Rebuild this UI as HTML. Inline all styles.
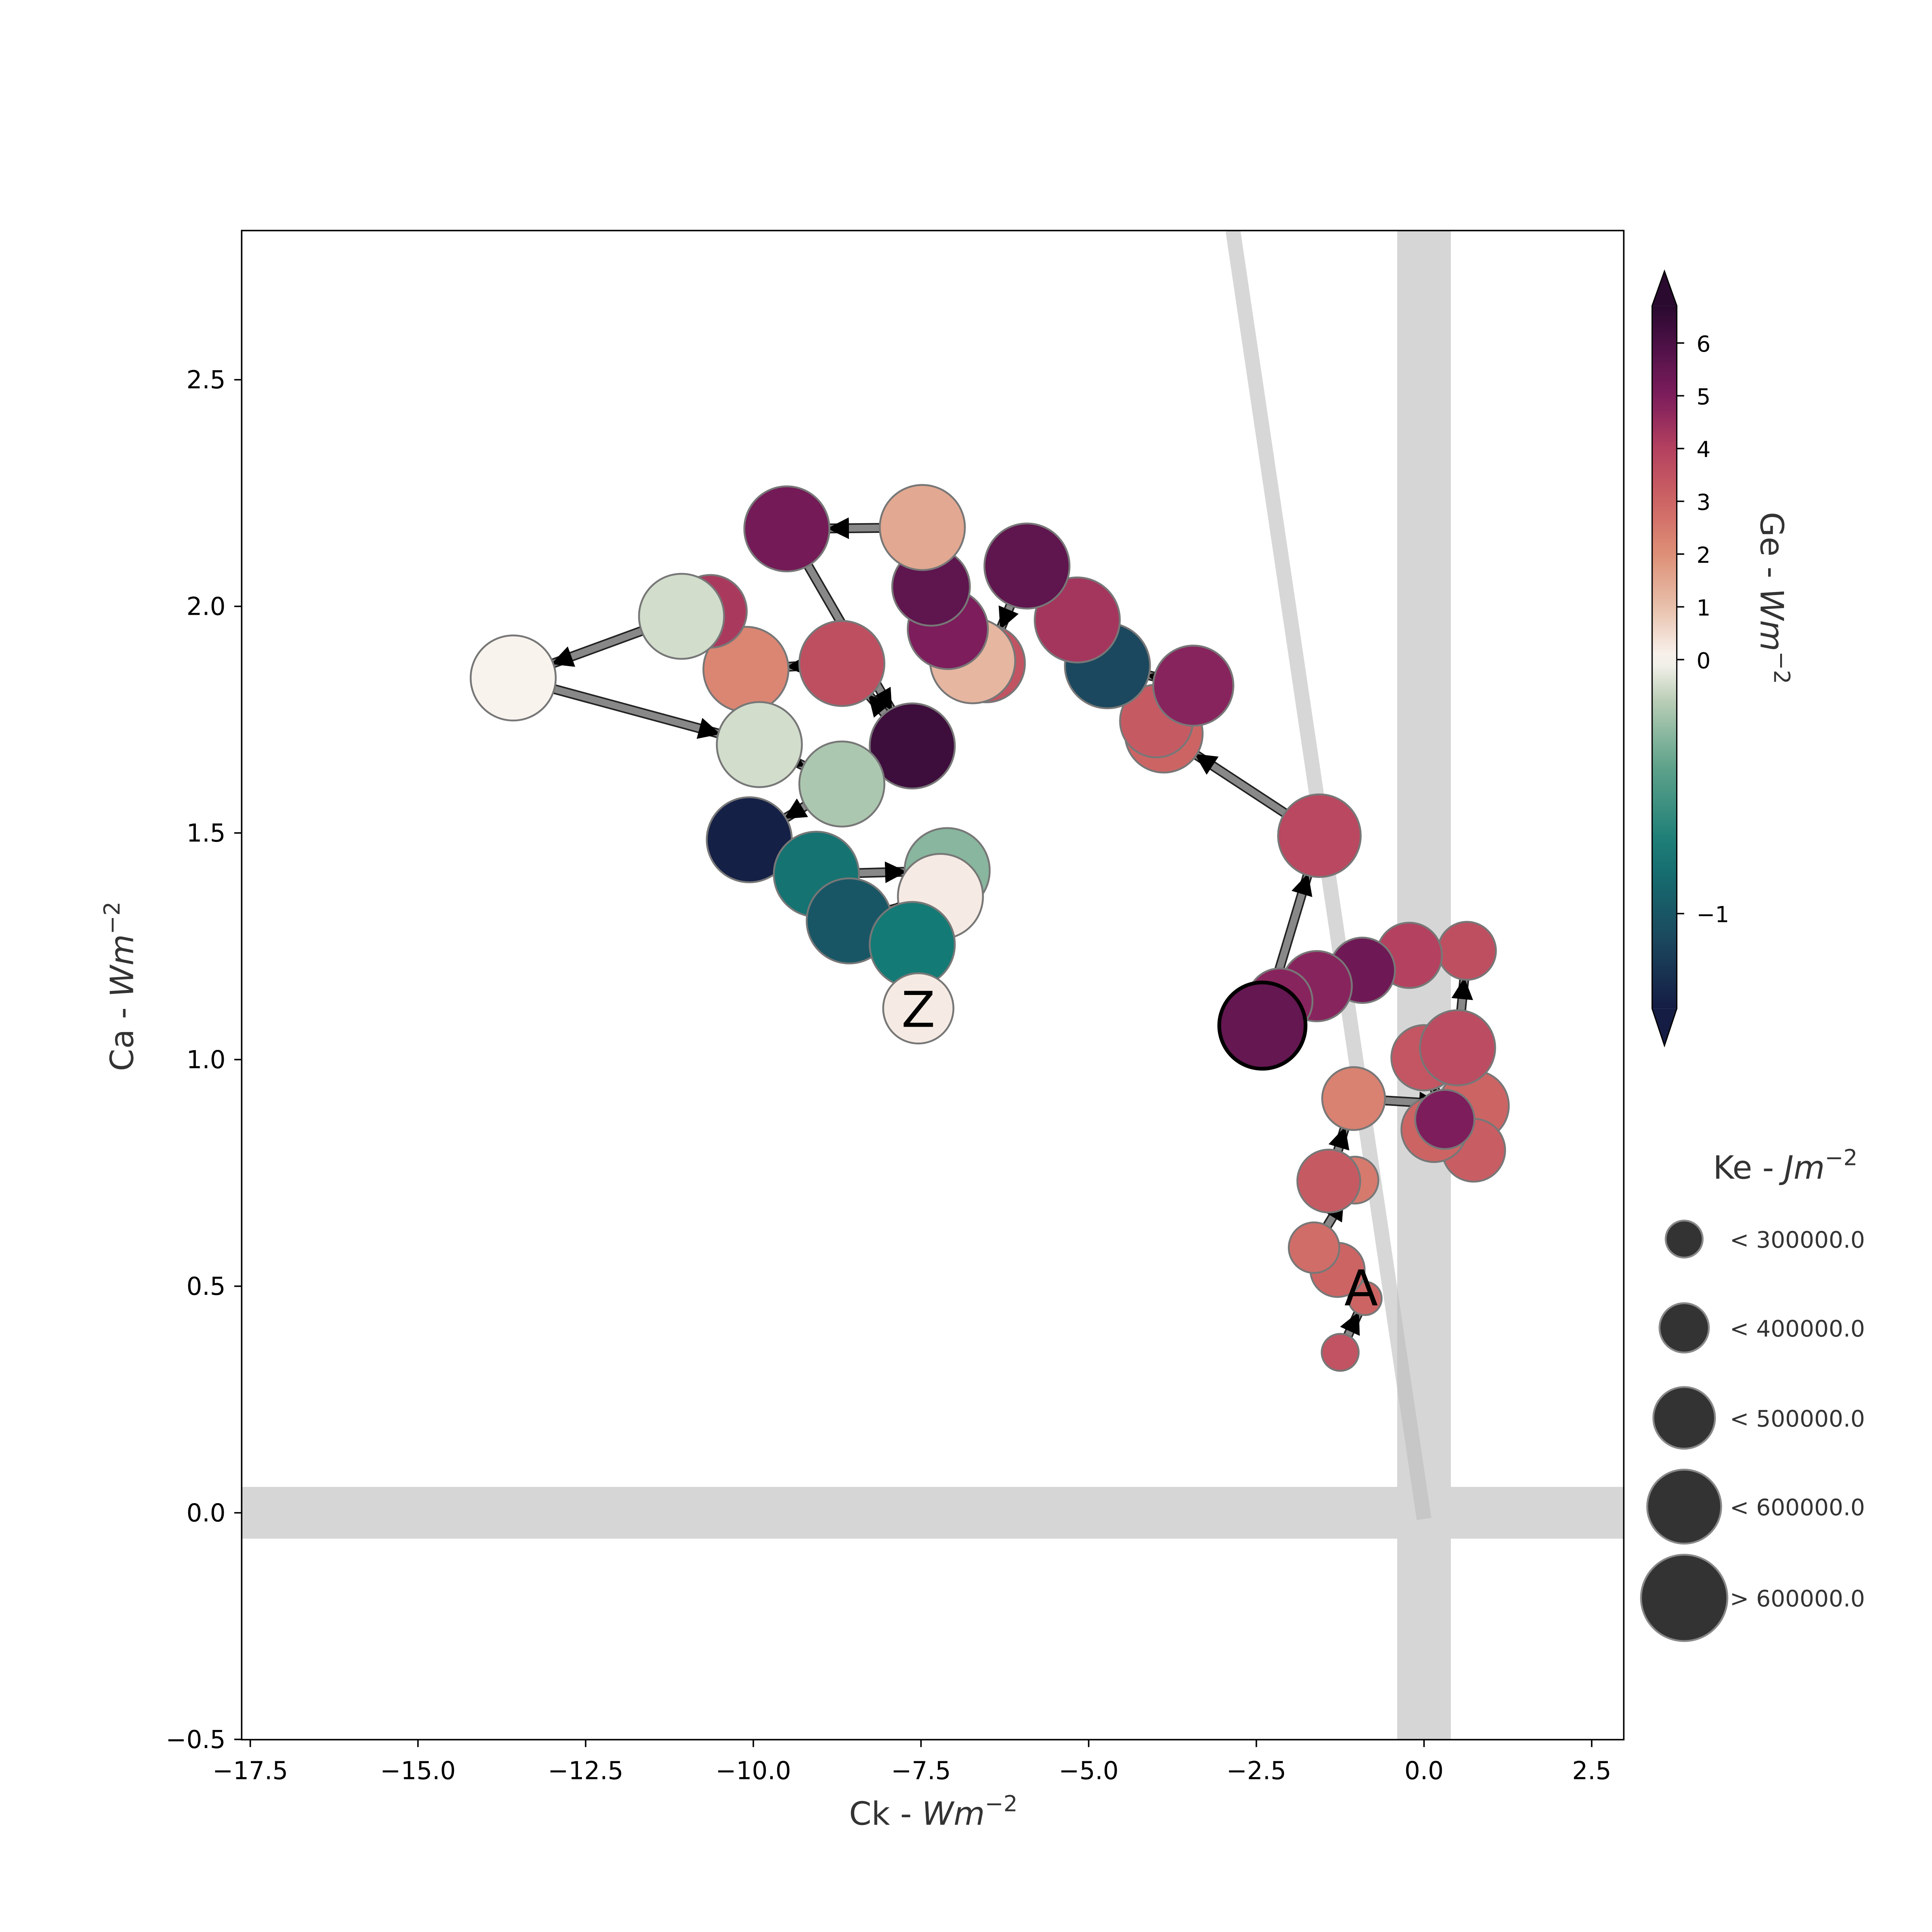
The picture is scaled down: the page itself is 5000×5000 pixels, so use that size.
<!DOCTYPE html>
<html><head><meta charset="utf-8"><style>
html,body{margin:0;padding:0;background:#fff;overflow:hidden;}
svg{display:block;font-family:"DejaVu Sans","Liberation Sans",sans-serif;}
</style></head><body>
<svg id="chart" width="5000" height="5000" viewBox="0 0 1567 1567" xmlns="http://www.w3.org/2000/svg">
<defs>
<marker id="arr" viewBox="0 0 10 10" refX="9" refY="5" markerWidth="3.2" markerHeight="3.2" orient="auto" markerUnits="strokeWidth">
<path d="M0,0 L10,5 L0,10 z" fill="#000"/></marker>
<clipPath id="clip"><rect x="196" y="187" width="1121" height="1224"/></clipPath>
<linearGradient id="cbgrad" x1="0" y1="1" x2="0" y2="0"></linearGradient>
</defs>
<g id="plot" clip-path="url(#clip)"></g>
<rect x="196" y="187" width="1121" height="1224" fill="none" stroke="#000" stroke-width="1.2"/>
<g id="axes"></g>
<g id="cbar"></g>
<g id="legend"></g>
</svg>
<script>
const xs=[-1.25,-0.88,-1.29,-1.64,-1.03,-1.42,-1.05,0.74,0.74,0.15,0.31,0.0,0.50,0.64,-0.22,-0.92,-1.60,-2.15,-2.41,-1.56,-3.88,-3.99,-3.44,-4.72,-5.17,-5.92,-6.53,-6.73,-7.10,-7.35,-7.48,-9.50,-7.63,-8.68,-10.11,-10.64,-11.07,-13.58,-9.91,-8.68,-10.06,-9.06,-7.11,-7.21,-8.57,-7.63,-7.54];
const ys=[0.354,0.473,0.536,0.585,0.734,0.732,0.914,0.898,0.80,0.846,0.868,1.004,1.026,1.240,1.230,1.197,1.162,1.129,1.075,1.494,1.719,1.747,1.825,1.869,1.970,2.089,1.874,1.880,1.950,2.043,2.174,2.171,1.692,1.874,1.861,1.989,1.978,1.842,1.695,1.608,1.485,1.409,1.417,1.360,1.306,1.254,1.113];
const ge=[3.5,3,3,2.8,2.5,3.3,2.3,3,3.2,3,5,3.4,3.7,3.6,4,5.3,4.8,4.8,5.5,3.8,3,3.3,4.8,-1.1,4.3,5.6,3.5,1.2,5,5.6,1.5,5.2,6.3,3.6,2.2,4.2,-0.1,0.05,-0.1,-0.2,-1.35,-0.8,-0.3,0.2,-1.0,-0.75,0.2];
const ke=[250000,220000,390000,360000,330000,460000,460000,520000,460000,480000,430000,480000,560000,420000,480000,480000,520000,480000,650000,620000,580000,540000,600000,640000,640000,640000,580000,640000,600000,580000,640000,640000,640000,640000,640000,540000,640000,640000,640000,640000,640000,640000,640000,640000,640000,640000,520000];
const xTicks=[-17.5,-15.0,-12.5,-10.0,-7.5,-5.0,-2.5,0.0,2.5];
const yTicks=[-0.5,0.0,0.5,1.0,1.5,2.0,2.5];
const cbTicks=[-1,0,1,2,3,4,5,6];
const legendVals=[250000,350000,450000,550000,650000];
const legendLabels=["< 300000.0","< 400000.0","< 500000.0","< 600000.0","> 600000.0"];

const NS="http://www.w3.org/2000/svg";
const X=v=>1155+54.4*v, Y=v=>1227-367.6*v;
const R=k=>15+(k-250000)/400000*20;
function mk(tag,attrs,parent,txt){const e=document.createElementNS(NS,tag);for(const k in attrs)e.setAttribute(k,attrs[k]);if(txt!==undefined)e.textContent=txt;parent.appendChild(e);return e;}
const stops=[[-1.37,[21,29,68]],[-1.1,[27,72,94]],[-0.75,[20,122,117]],[-0.4,[100,165,140]],[-0.15,[190,208,185]],[0,[250,246,242]],[1,[232,192,171]],[2,[222,143,119]],[3,[205,100,100]],[4,[180,65,95]],[5,[125,29,92]],[6,[75,16,69]],[6.7,[42,10,47]]];
function cmap(v){v=Math.max(-1.37,Math.min(6.7,v));for(let i=0;i<stops.length-1;i++){const a=stops[i],b=stops[i+1];if(v<=b[0]){const t=(v-a[0])/(b[0]-a[0]);const c=a[1].map((x,j)=>Math.round(x+(b[1][j]-x)*t));return `rgb(${c})`;}}return 'rgb(42,10,47)';}

const plot=document.getElementById('plot');
let e=mk('rect',{x:X(-0.4),y:187,width:X(0.4)-X(-0.4),height:1224,fill:'#d6d6d6'},plot);

e=mk('rect',{x:196,y:1206,width:1121,height:42,fill:'#d6d6d6'},plot);

e=mk('line',{x1:1000,y1:187,x2:1155,y2:1232,stroke:'#bdbdbd','stroke-opacity':0.6,'stroke-width':12},plot);

for(let i=0;i<xs.length-1;i++){
 const x1=X(xs[i]),y1=Y(ys[i]),x2=X(xs[i+1]),y2=Y(ys[i+1]);
 const d=Math.hypot(x2-x1,y2-y1);if(d<2)continue;
 const r=R(ke[i+1]);const ex=x2-(x2-x1)*r/d,ey=y2-(y2-y1)*r/d;
 e=mk('line',{x1:x1,y1:y1,x2:ex,y2:ey,stroke:'#222','stroke-width':8},plot);
 
 e=mk('line',{x1:x1,y1:y1,x2:ex,y2:ey,stroke:'#888','stroke-width':5.5,'marker-end':'url(#arr)'},plot);
 
}
for(let i=0;i<xs.length;i++){
 e=mk('circle',{cx:X(xs[i]),cy:Y(ys[i]),r:R(ke[i]),fill:cmap(ge[i]),stroke:i==18?'#000':'#777','stroke-width':i==18?3:1.5},plot);
 
}
e=mk('text',{x:X(xs[0])+17,y:Y(ys[0])-38,'font-size':40,'text-anchor':'middle',fill:'#000'},plot,'A');

e=mk('text',{x:X(xs[46]),y:Y(ys[46])+15,'font-size':40,'text-anchor':'middle',fill:'#000'},plot,'Z');


const ax=document.getElementById('axes');
for(const t of xTicks){const x=X(t);
 e=mk('line',{x1:x,y1:1411,x2:x,y2:1417,stroke:'#000','stroke-width':1.2},ax);
 
 e=mk('text',{x:x,y:1443,'font-size':20,'text-anchor':'middle'},ax,(t<0?'\u2212':'')+Math.abs(t).toFixed(1));
 }
for(const t of yTicks){const y=Y(t);
 e=mk('line',{x1:190,y1:y,x2:196,y2:y,stroke:'#000','stroke-width':1.2},ax);
 
 e=mk('text',{x:183,y:y+7,'font-size':20,'text-anchor':'end'},ax,(t<0?'\u2212':'')+Math.abs(t).toFixed(1));
 }
e=mk('text',{x:757,y:1480,'font-size':26,'text-anchor':'middle',fill:'#333'},ax);
e.innerHTML='Ck -  <tspan font-style="italic">Wm</tspan><tspan dy="-11" font-size="18">\u22122</tspan>';

e=mk('text',{x:0,y:0,'font-size':26,'text-anchor':'middle',fill:'#333',transform:'translate(108,800) rotate(-90)'},ax);
e.innerHTML='Ca -  <tspan font-style="italic">Wm</tspan><tspan dy="-11" font-size="18">\u22122</tspan>';


const cb=document.getElementById('cbar');
const CBY=v=>v>=0?535-42.8*v:535-206*v;
const grad=document.getElementById('cbgrad');
for(let i=0;i<=60;i++){const v=-1.37+(6.7+1.37)*i/60;const off=(818-CBY(v))/(818-248);
 mk('stop',{offset:Math.max(0,Math.min(1,off)),'stop-color':cmap(v)},grad);}
e=mk('rect',{x:1340,y:248,width:20,height:570,fill:'url(#cbgrad)'},cb);

e=mk('polygon',{points:'1340,248 1360,248 1350,220',fill:cmap(6.7)},cb);

e=mk('polygon',{points:'1340,818 1360,818 1350,848',fill:cmap(-1.37)},cb);

mk('polygon',{points:'1340,248 1350,220 1360,248 1360,818 1350,848 1340,818',fill:'none',stroke:'#000','stroke-width':1},cb);
for(const t of cbTicks){const y=CBY(t);
 e=mk('line',{x1:1360,y1:y,x2:1366,y2:y,stroke:'#000','stroke-width':1.2},cb);
 
 e=mk('text',{x:1376,y:y+7,'font-size':18},cb,(t<0?'\u2212':'')+Math.abs(t));
 }
e=mk('text',{x:0,y:0,'font-size':26,'text-anchor':'middle',fill:'#333',transform:'translate(1428,485) rotate(90)'},cb);
e.innerHTML='Ge -  <tspan font-style="italic">Wm</tspan><tspan dy="-11" font-size="18">\u22122</tspan>';


const lg=document.getElementById('legend');
e=mk('text',{x:1448,y:956,'font-size':26,'text-anchor':'middle',fill:'#333'},lg);
e.innerHTML='Ke -  <tspan font-style="italic">Jm</tspan><tspan dy="-11" font-size="18">\u22122</tspan>';

const ly=[1005,1077,1150,1222,1296];
legendVals.forEach((v,i)=>{
 e=mk('circle',{cx:1366,cy:ly[i],r:R(v),fill:'#333',stroke:'#888','stroke-width':1.5},lg);
 
 e=mk('text',{x:1403,y:ly[i]+7,'font-size':18.5,fill:'#333'},lg,legendLabels[i]);
 
});
</script>
</body></html>
